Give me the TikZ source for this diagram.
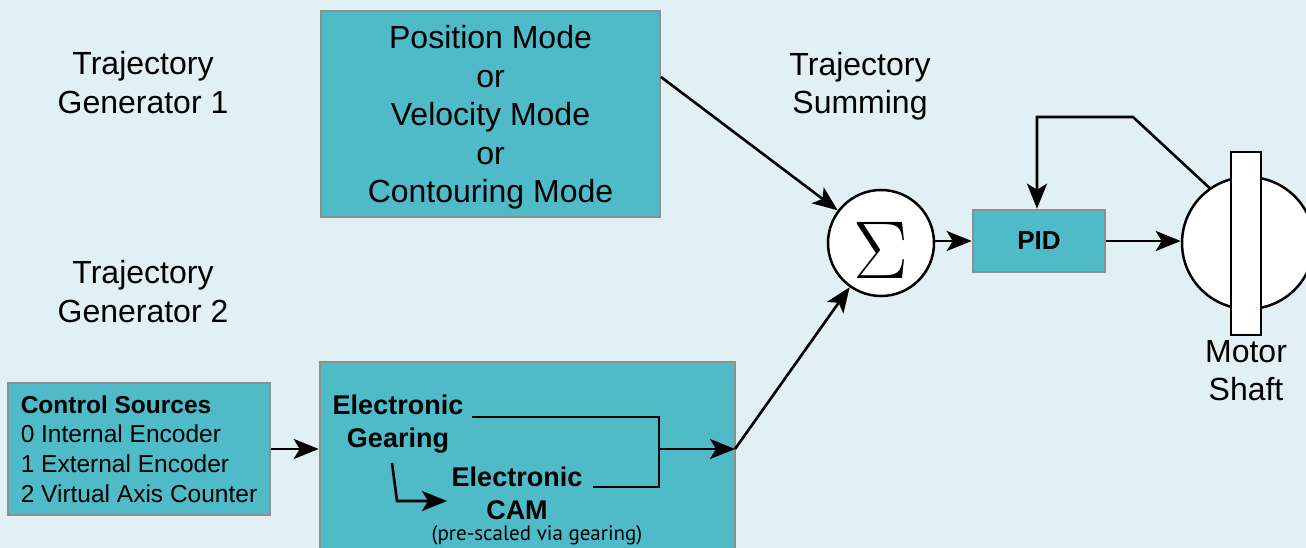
\documentclass[tikz,border=0pt]{standalone}
\usepackage{fontspec}
\setmainfont{Liberation Sans}
\newfontfamily\smallfont{PT Sans}
\usetikzlibrary{arrows.meta}
\definecolor{bgc}{HTML}{E1F0F4}
\definecolor{boxfill}{HTML}{4FBAC8}
\definecolor{edgec}{HTML}{8E9090}
\begin{document}
\begin{tikzpicture}[x=1pt,y=-1pt,
  box/.style={draw=edgec, line width=2.6pt, fill=boxfill, inner sep=0pt},
  arr/.style={-{Stealth[length=25pt,width=20pt,inset=6pt]}, line width=2.6pt},
  ln/.style={line width=2.6pt},
  lbl/.style={font=\fontsize{32}{38.5}\selectfont, align=center, inner sep=0pt},
  bl/.style={font=\bfseries\fontsize{27}{33}\selectfont, align=center, inner sep=0pt}]
\useasboundingbox (0,0) rectangle (1306,548);
\fill[bgc] (0,0) rectangle (1306,548);

% labels
\node[lbl] (t1) at (143,82.5) {Trajectory\\Generator 1};
\node[lbl] (t2) at (143,291.5) {Trajectory\\Generator 2};
\node[lbl] (ts) at (860,86) {Trajectory\\Summing};

% top box
\node[box, minimum width=339pt, minimum height=206pt] (top) at (490.5,114) {};
\node[lbl] (toptext) at (490.5,117.5)
  {Position Mode\\or\\Velocity Mode\\or\\Contouring Mode};

% control sources
\node[box, align=left, font=\fontsize{24.5}{29.7}\selectfont, minimum width=262pt, minimum height=132pt] (ctrl) at (139,449)
  {\textbf{Control Sources}\\0 Internal Encoder\\1 External Encoder\\2 Virtual Axis Counter};

% bottom box
\node[box, minimum width=415pt, minimum height=198pt] (bot) at (527.5,461) {};
\node[bl] (gear) at (398,424.5) {Electronic\\Gearing};
\node[bl] (cam) at (517,493) {Electronic\\CAM};
\node[inner sep=0pt, font=\smallfont\fontsize{21}{21}\selectfont] (pre) at (537,535) {(pre-scaled via gearing)};
\coordinate (bo) at (735,449);

% sigma
\node[circle, draw=black, line width=2.5pt, fill=white, minimum size=106pt, inner sep=0pt] (sigma) at (881,243) {};
\node[inner sep=0pt, scale=3.3] (sig) at (881,250) {\Huge$\Sigma$};

% PID
\node[box, font=\bfseries\fontsize{26}{26}\selectfont, minimum width=132pt, minimum height=62pt] (pid) at (1039,241) {PID};

% motor
\node[circle, draw=black, line width=2.5pt, fill=white, minimum size=132pt, inner sep=0pt] (motor) at (1248,243) {};
\node[draw=black, line width=2.5pt, fill=white, minimum width=30pt, minimum height=183pt, inner sep=0pt] (shaft) at (1246,243.5) {};
\node[lbl, font=\fontsize{32}{38}\selectfont] (ms) at (1246,371) {Motor\\Shaft};

% connectors
\coordinate (t1out) at (661,77);
\draw[arr] (t1out) -- (sigma);
\draw[arr] (bo) -- (sigma);
\draw[arr] (ctrl.east) -- (ctrl.east -| bot.west);
\draw[ln] (472,417) -- (659,417) -- (659,487) -- (593,487);
\draw[arr] (659,449) -- (bo);
\draw[arr] (392,463) -- (397,501) -- (447,501);
\draw[arr] (sigma.east |- pid.west) -- (pid.west);
\draw[arr] (pid.east) -- (pid.east -| motor.west);
\draw[arr] (motor.125) -- (1133,117) -- (1037,117) -- (1037,117 |- pid.north);
\end{tikzpicture}
\end{document}
